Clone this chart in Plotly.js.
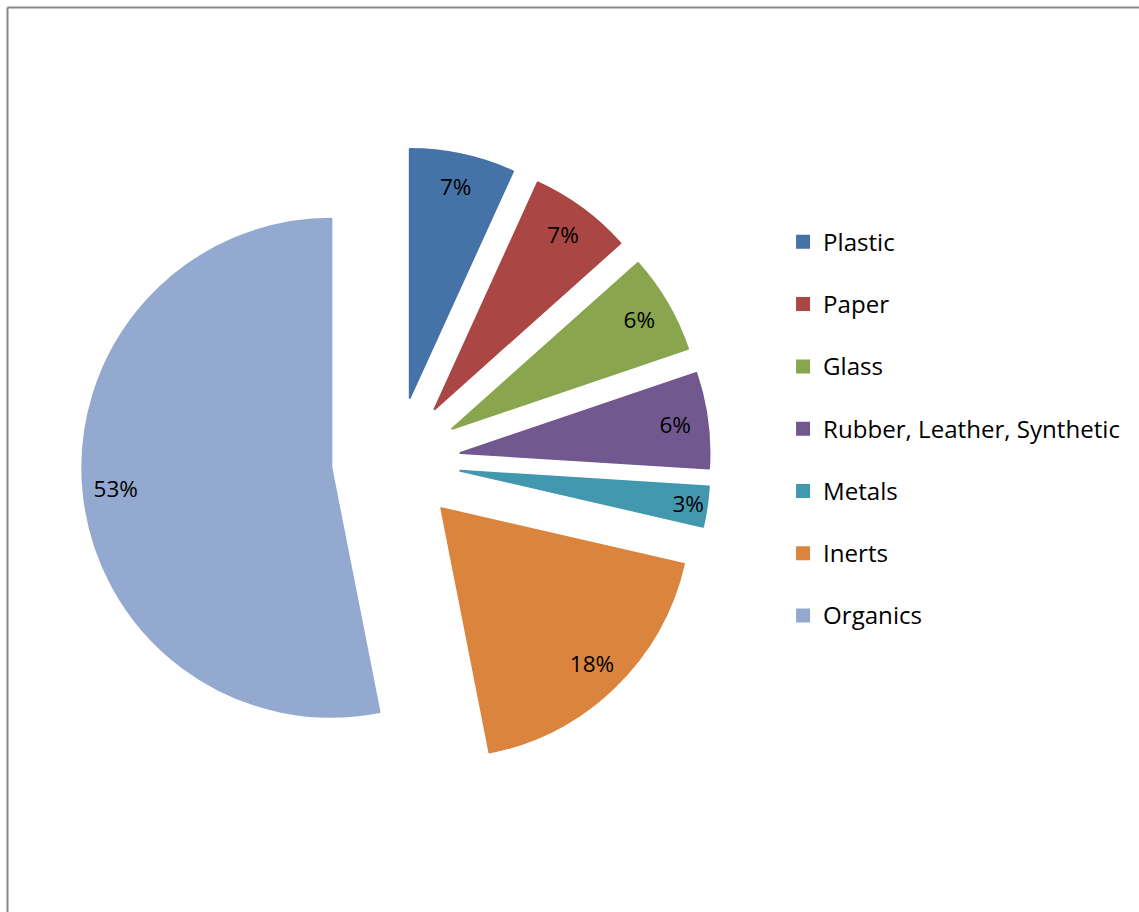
<!DOCTYPE html>
<html>
<head>
<meta charset="utf-8">
<script src="https://cdn.plot.ly/plotly-3.0.1.min.js"></script>
<style>
  html, body { margin: 0; padding: 0; background: #ffffff; }
  #chart { width: 1139px; height: 912px; }
</style>
</head>
<body>
<div id="chart"></div>
<script>
// ---- data ----
const categories = ["Plastic", "Paper", "Glass", "Rubber, Leather, Synthetic", "Metals", "Inerts", "Organics"];
const shares = [6.8, 6.6, 6.4, 6.2, 2.6, 18.3, 53.1];
const sliceColors = ["#4572A7", "#AA4643", "#89A54E", "#71588F", "#4198AF", "#DB843D", "#93A9CF"];

// ---- styling ----
const explode = 0.261;
const FONT = "'Open Sans', Lato, sans-serif";
const pieDomain = { x: [0.0720, 0.6234], y: [0.1497, 0.8383] };

// legend labels: slightly larger text plus an empty second line so the rows are spaced like the original
const legendLabels = categories.map(c => '<span style="font-size:24.1px">' + c + '</span><br> ');
const pulls = categories.map(() => explode);

const slices = {
  type: "pie",
  labels: legendLabels,
  values: shares,
  sort: false,
  direction: "clockwise",
  rotation: 0,
  pull: pulls,
  domain: pieDomain,
  marker: { colors: sliceColors, line: { color: sliceColors, width: 2 } },
  textinfo: "none",
  hoverinfo: "label+percent",
  showlegend: true
};

// transparent ring on top carrying the percentage labels near the outer edge
const labelRing = {
  type: "pie",
  labels: legendLabels,
  values: shares,
  sort: false,
  direction: "clockwise",
  rotation: 0,
  pull: pulls,
  domain: pieDomain,
  hole: 0.74,
  marker: { colors: categories.map(() => "rgba(0,0,0,0)"), line: { width: 0 } },
  texttemplate: "%{percent:.0%}",
  textposition: "inside",
  insidetextorientation: "horizontal",
  textfont: { family: FONT, size: 22.5, color: "#000000" },
  hoverinfo: "skip",
  showlegend: false
};

const layout = {
  width: 1139,
  height: 912,
  margin: { l: 0, r: 0, t: 0, b: 0 },
  paper_bgcolor: "#ffffff",
  plot_bgcolor: "#ffffff",
  font: { family: FONT, color: "#000000" },
  uniformtext: { mode: "show", minsize: 22.5 },
  showlegend: true,
  legend: {
    x: 0.6875, xanchor: "left",
    y: 0.7582, yanchor: "top",
    valign: "top",
    bgcolor: "rgba(0,0,0,0)",
    borderwidth: 0,
    font: { family: FONT, size: 22.8, color: "#000000" }
  },
  shapes: [
    { type: "line", xref: "paper", yref: "paper", x0: 0.00658, x1: 1.01, y0: 0.99178, y1: 0.99178,
      line: { color: "#878787", width: 2 } },
    { type: "line", xref: "paper", yref: "paper", x0: 0.00658, x1: 0.00658, y0: -0.01, y1: 0.99178,
      line: { color: "#878787", width: 2 } }
  ]
};

Plotly.newPlot("chart", [slices, labelRing], layout, { displayModeBar: false, staticPlot: false });
</script>
</body>
</html>
